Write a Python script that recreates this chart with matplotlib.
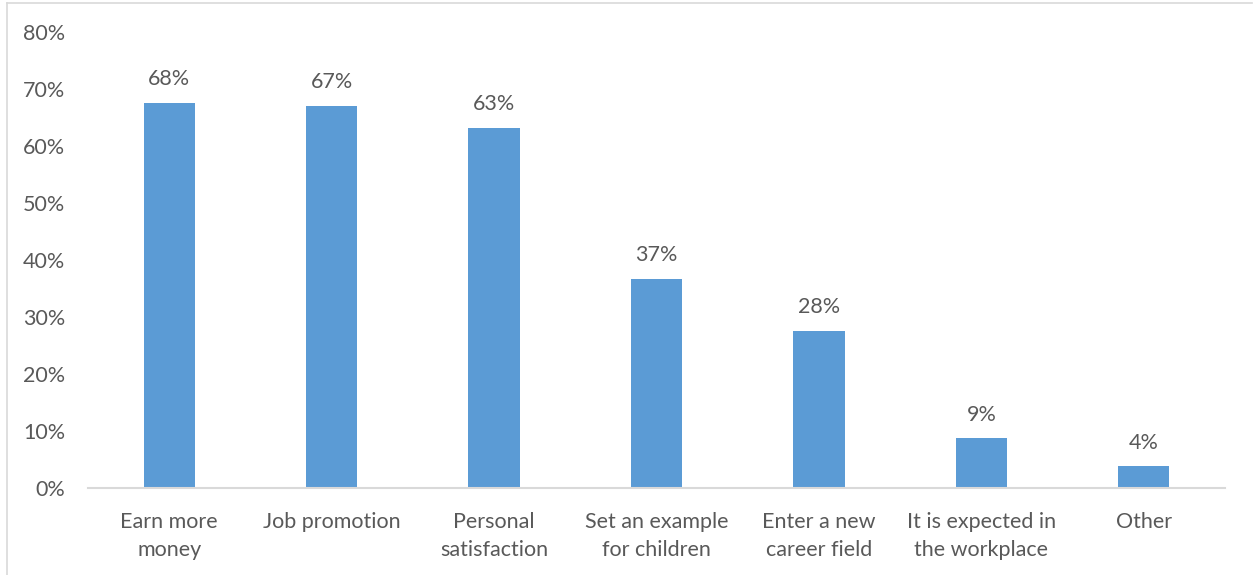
import matplotlib
matplotlib.use("Agg")
import matplotlib.pyplot as plt
from matplotlib.lines import Line2D
import numpy as np

categories = [
    "Earn more\nmoney",
    "Job promotion",
    "Personal\nsatisfaction",
    "Set an example\nfor children",
    "Enter a new\ncareer field",
    "It is expected in\nthe workplace",
    "Other",
]
values = [67.6, 67.0, 63.2, 36.7, 27.6, 8.7, 3.8]
yticks = [0, 10, 20, 30, 40, 50, 60, 70, 80]

W, H = 1253, 575
fig = plt.figure(figsize=(W / 100, H / 100), dpi=100)
plt.rcParams["font.family"] = ["Lato", "DejaVu Sans"]
text_color = "#595959"
bar_color = "#5b9bd5"
fs = 15.5

left, right, bottom, top = 88, 1225, 488, 32
ax = fig.add_axes([left / W, 1 - bottom / H, (right - left) / W, (bottom - top) / H])

x = np.arange(len(categories))
ax.bar(x, values, width=0.315, color=bar_color, zorder=2)
for xi, v in zip(x, values):
    ax.text(xi, v + 2.4, f"{v:.0f}%", ha="center", va="bottom",
            fontsize=fs, color=text_color)

ax.set_xlim(-0.5, len(categories) - 0.5)
ax.set_ylim(0, 80)
ax.set_yticks(yticks)
ax.set_yticklabels([f"{t}%" for t in yticks])
ax.set_xticks(x)
ax.set_xticklabels(categories, linespacing=1.5)
ax.tick_params(axis="both", length=0, labelsize=fs, colors=text_color)
ax.tick_params(axis="x", pad=17)
ax.tick_params(axis="y", pad=16.5)
for side in ["top", "right", "left"]:
    ax.spines[side].set_visible(False)
ax.spines["bottom"].set_color("#d9d9d9")
ax.spines["bottom"].set_linewidth(1.5)

# thin frame along the top and left edges
fig.add_artist(Line2D([6.5 / W, 6.5 / W], [0, 1 - 3 / H], transform=fig.transFigure,
                      color="#d9d9d9", linewidth=1.2))
fig.add_artist(Line2D([6.5 / W, 1252 / W], [1 - 3 / H, 1 - 3 / H], transform=fig.transFigure,
                      color="#d9d9d9", linewidth=1.2))

fig.savefig("out.png", dpi=100, facecolor="white")
